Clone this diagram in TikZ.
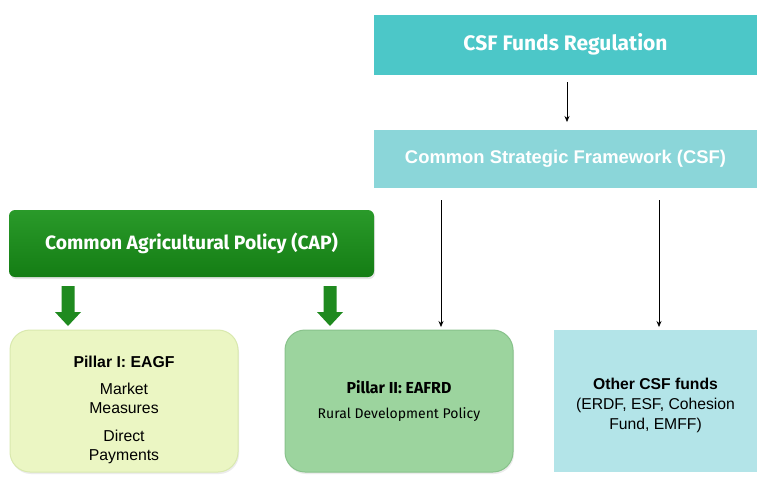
\documentclass[tikz,border=0pt]{standalone}
\usepackage{fontspec}
\setmainfont{Liberation Sans}
\newfontfamily\myr{Fira Sans}
\usetikzlibrary{shadows,arrows.meta}
\definecolor{tealA}{HTML}{4CC7C8}
\definecolor{tealB}{HTML}{8BD6D9}
\definecolor{capTop}{HTML}{2A9A2A}
\definecolor{capBot}{HTML}{147D14}
\definecolor{pOne}{HTML}{EBF6C3}
\definecolor{pOneB}{HTML}{D9E9AE}
\definecolor{pTwo}{HTML}{9CD49E}
\definecolor{pTwoB}{HTML}{88C28B}
\definecolor{oth}{HTML}{B3E4E8}
\definecolor{arrG}{HTML}{1F8A1F}
\begin{document}
\begin{tikzpicture}[x=1pt,y=-1pt,
  band/.style={inner sep=0pt, minimum width=383pt, minimum height=60pt, text=white},
  pillar/.style={rounded corners=20pt, inner sep=0pt, minimum width=228pt, minimum height=142pt, align=center, drop shadow={shadow xshift=1pt, shadow yshift=-2pt, opacity=0.15}},
  blockarrow/.style={fill=arrG, draw=none},
  thinarrow/.style={-{Stealth[length=6pt,width=5pt]}, line width=0.7pt, black}]
\useasboundingbox[fill=white] (0,0) rectangle (757,491);
\node[band, fill=tealA, font=\myr\bfseries\fontsize{21}{24}\selectfont] (reg) at (565.5,44.5) {CSF Funds Regulation};
\node[band, fill=tealB, minimum height=58pt, font=\bfseries\fontsize{18.4}{22}\selectfont] (csf) at (565.5,159) {Common Strategic Framework (CSF)};
\node[rounded corners=6pt, inner sep=0pt, minimum width=365pt, minimum height=67pt, top color=capTop, bottom color=capBot, text=white, font=\myr\bfseries\fontsize{19.3}{22}\selectfont, drop shadow={shadow xshift=1pt, shadow yshift=-2pt, opacity=0.2}] (cap) at (191.5,243.5) {Common Agricultural Policy (CAP)};
\node[pillar, fill=pOne, draw=pOneB, line width=1pt] (p1) at (124,401) {};
\node[align=center, inner sep=0pt, font=\fontsize{15.8}{19}\selectfont] (p1t) at (124,410) {\textbf{Pillar I: EAGF}\\[8pt]
  Market\\Measures\\[9pt]Direct\\Payments};
\node[pillar, fill=pTwo, draw=pTwoB, line width=1pt, font=\myr\fontsize{15.9}{25}\selectfont] (p2) at (399,401) {\textbf{Pillar II: EAFRD}\\
  {\fontsize{14}{25}\selectfont Rural Development Policy}};
\node[inner sep=0pt, minimum width=203pt, minimum height=142pt, fill=oth] (oth) at (655.5,401) {};
\node[align=center, inner sep=0pt, font=\fontsize{15.7}{20}\selectfont] (otht) at (655.5,405) {\textbf{Other CSF funds}\\(ERDF, ESF, Cohesion\\Fund, EMFF)};
\coordinate (r1) at (567,82); \coordinate (r2) at (567,122);
\draw[thinarrow] (r1) -- (r2);
\coordinate (c1a) at (441,200); \coordinate (c1b) at (441,327);
\coordinate (c2a) at (659,200); \coordinate (c2b) at (659,327);
\draw[thinarrow] (c1a) -- (c1b);
\draw[thinarrow] (c2a) -- (c2b);
\foreach \x in {68,330}{
  \fill[blockarrow] (\x-6.5,286) -- (\x+6.5,286) -- (\x+6.5,312) -- (\x+13,312) -- (\x,326) -- (\x-13,312) -- (\x-6.5,312) -- cycle;
}
\end{tikzpicture}
\end{document}
